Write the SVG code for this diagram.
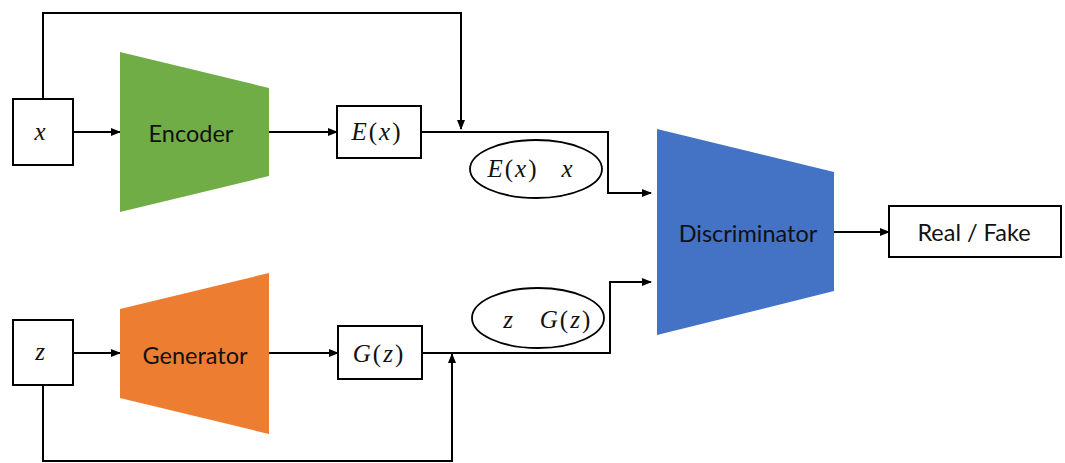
<svg xmlns="http://www.w3.org/2000/svg" width="1065" height="463" viewBox="0 0 1065 463">
  <defs>
    <marker id="arrow" viewBox="0 0 10 10" refX="9" refY="5" markerWidth="5" markerHeight="5" orient="auto" markerUnits="strokeWidth">
      <path d="M0,1 L10,5 L0,9 z" fill="#000"/>
    </marker>
  </defs>
  <style>
    .box { fill: #fff; stroke: #000; stroke-width: 2; }
    .oval { fill: #fff; stroke: #000; stroke-width: 1.8; }
    .wire { fill: none; stroke: #000; stroke-width: 2; }
    .arr { marker-end: url(#arrow); }
    .lbl { font-family: "Lato", "Open Sans", "Liberation Sans", sans-serif; font-size: 23.5px; fill: #111; text-anchor: middle; dominant-baseline: central; }
    .math { font-family: "Liberation Serif", "DejaVu Serif", serif; font-style: italic; font-size: 25px; letter-spacing: 2px; fill: #111; text-anchor: middle; dominant-baseline: central; }
    .paren { font-style: normal; }
  </style>
  <rect width="1065" height="463" fill="#fff"/>

  <!-- connectors -->
  <g id="connectors">
    <path class="wire arr" d="M73,132 H120"/>
    <path class="wire arr" d="M269,132 H337"/>
    <path class="wire arr" d="M43,99 V13 H461 V129"/>
    <path class="wire arr" d="M421,132 H608 V193 H651"/>
    <path class="wire arr" d="M73,353 H120"/>
    <path class="wire arr" d="M269,353 H338"/>
    <path class="wire arr" d="M43,385 V461 H452 V354"/>
    <path class="wire arr" d="M422,353 H610 V282 H651"/>
    <path class="wire arr" d="M834,232 H889"/>
  </g>

  <g id="node-x">
    <rect class="box" x="13" y="99" width="60" height="66"/>
    <text class="math" x="41" y="131">x</text>
  </g>

  <g id="node-encoder">
    <polygon points="120,52 269,88 269,176 120,212" fill="#70AD47"/>
    <text class="lbl" x="191" y="133">Encoder</text>
  </g>

  <g id="node-ex">
    <rect class="box" x="337" y="106" width="84" height="52"/>
    <text class="math" x="377" y="131">E<tspan class="paren">(</tspan>x<tspan class="paren">)</tspan></text>
  </g>

  <g id="node-pair-real">
    <ellipse class="oval" cx="536" cy="169" rx="66" ry="29"/>
    <text class="math" x="513" y="168">E<tspan class="paren">(</tspan>x<tspan class="paren">)</tspan></text>
    <text class="math" x="568" y="168">x</text>
  </g>

  <g id="node-z">
    <rect class="box" x="13" y="320" width="60" height="65"/>
    <text class="math" x="41" y="351">z</text>
  </g>

  <g id="node-generator">
    <polygon points="120,309 269,273 269,434 120,398" fill="#ED7D31"/>
    <text class="lbl" x="195" y="355">Generator</text>
  </g>

  <g id="node-gz">
    <rect class="box" x="338" y="326" width="84" height="53"/>
    <text class="math" x="379" y="353">G<tspan class="paren">(</tspan>z<tspan class="paren">)</tspan></text>
  </g>

  <g id="node-pair-fake">
    <ellipse class="oval" cx="538" cy="318" rx="66" ry="30"/>
    <text class="math" x="509" y="319">z</text>
    <text class="math" x="566" y="319">G<tspan class="paren">(</tspan>z<tspan class="paren">)</tspan></text>
  </g>

  <g id="node-discriminator">
    <polygon points="657,129 834,172 834,291 657,335" fill="#4472C4"/>
    <text class="lbl" x="748" y="233">Discriminator</text>
  </g>

  <g id="node-output">
    <rect class="box" x="889" y="206" width="172" height="51"/>
    <text class="lbl" x="974" y="232">Real / Fake</text>
  </g>
</svg>
